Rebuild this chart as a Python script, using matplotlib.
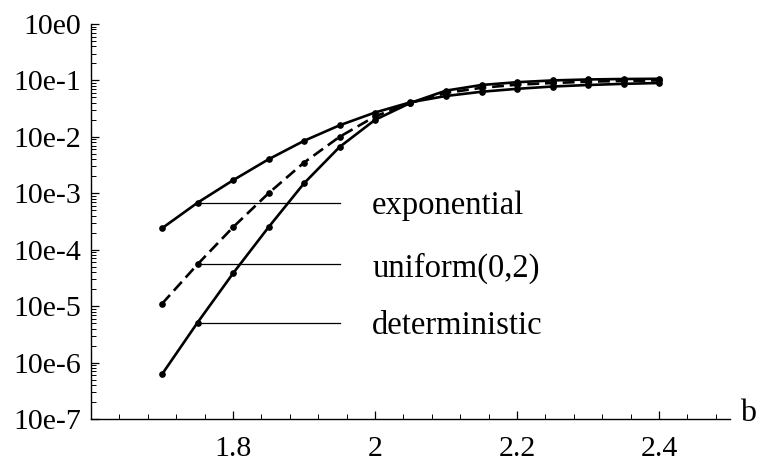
import numpy as np
import matplotlib
matplotlib.use('Agg')
import matplotlib.pyplot as plt
from matplotlib.ticker import FixedLocator, FixedFormatter, LogLocator, NullFormatter, MultipleLocator

plt.rcParams['font.family'] = ['Liberation Serif', 'DejaVu Serif']

b = [1.7, 1.75, 1.8, 1.85, 1.9, 1.95, 2.0, 2.05, 2.1, 2.15, 2.2, 2.25, 2.3, 2.35, 2.4]
exponential = [2.4e-4, 6.8e-4, 1.7e-3, 4.0e-3, 8.5e-3, 1.6e-2, 2.7e-2, 4.1e-2,
               5.3e-2, 6.3e-2, 7.1e-2, 7.8e-2, 8.3e-2, 8.7e-2, 9.0e-2]
uniform = [1.1e-5, 5.5e-5, 2.5e-4, 1.0e-3, 3.5e-3, 1.0e-2, 2.3e-2, 4.0e-2,
           6.0e-2, 7.4e-2, 8.4e-2, 9.0e-2, 9.5e-2, 9.8e-2, 1.0e-1]
deterministic = [6.2e-7, 5.1e-6, 3.8e-5, 2.5e-4, 1.5e-3, 6.6e-3, 2.0e-2, 4.0e-2,
                 6.6e-2, 8.3e-2, 9.3e-2, 1.0e-1, 1.04e-1, 1.06e-1, 1.07e-1]
labels = ['exponential', 'uniform(0,2)', 'deterministic']

y_ticks = [10.0 ** -k for k in range(8)]
y_tick_labels = ['10e0'] + ['10e-%d' % k for k in range(1, 8)]
x_ticks = [1.8, 2.0, 2.2, 2.4]
x_tick_labels = ['1.8', '2', '2.2', '2.4']

fig = plt.figure(figsize=(7.64, 4.63), dpi=100)
ax = fig.add_axes([91 / 764, 44 / 463, 639 / 764, 395 / 463])

ax.plot(b, exponential, color='black', lw=1.9, marker='o', ms=3.8)
ax.plot(b, uniform, color='black', lw=1.9, marker='o', ms=3.8, linestyle=(0, (4.5, 2.2)))
ax.plot(b, deterministic, color='black', lw=1.9, marker='o', ms=3.8)

# label lines from the second point of each curve
for series, name in zip([exponential, uniform, deterministic], labels):
    ax.plot([b[1], 1.95], [series[1], series[1]], color='black', lw=0.9)
    ax.text(1.996, series[1], name, fontsize=23.5, va='center_baseline', ha='left')

ax.set_yscale('log')
ax.set_xlim(1.6, 2.5)
ax.set_ylim(1e-7, 1.0)

ax.yaxis.set_major_locator(FixedLocator(y_ticks))
ax.yaxis.set_major_formatter(FixedFormatter(y_tick_labels))
ax.yaxis.set_minor_locator(LogLocator(base=10, subs=np.arange(2, 10), numticks=20))
ax.yaxis.set_minor_formatter(NullFormatter())
ax.xaxis.set_major_locator(FixedLocator(x_ticks))
ax.xaxis.set_major_formatter(FixedFormatter(x_tick_labels))
ax.xaxis.set_minor_locator(MultipleLocator(0.04))

ax.spines['top'].set_visible(False)
ax.spines['right'].set_visible(False)
for s in ['left', 'bottom']:
    ax.spines[s].set_linewidth(1.0)

ax.tick_params(axis='both', which='major', direction='in', length=6, width=0.9, labelsize=21.5)
ax.tick_params(axis='both', which='minor', direction='in', length=3.5, width=0.7)
ax.tick_params(axis='x', which='major', pad=12)
ax.tick_params(axis='y', which='major', pad=7)

ax.annotate('b', xy=(1, 0), xycoords='axes fraction', xytext=(7, 4),
            textcoords='offset points', fontsize=23, va='center', ha='left')

fig.savefig('out.png', dpi=100)
